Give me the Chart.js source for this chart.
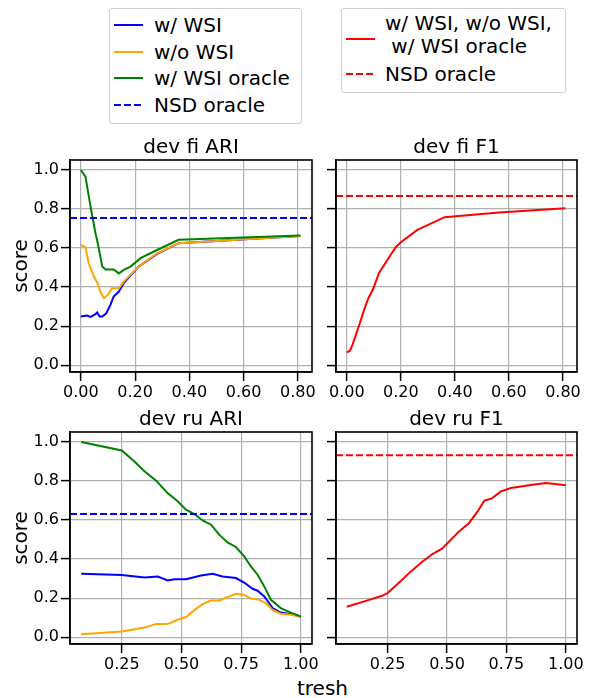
<!DOCTYPE html>
<html>
<head>
<meta charset="utf-8">
<script src="https://cdn.jsdelivr.net/npm/chart.js@4.4.1/dist/chart.umd.min.js"></script>
<style>
  body { margin: 0; background: #fff; font-family: "DejaVu Sans", sans-serif; }
  #wrap { position: relative; width: 589px; height: 698px; overflow: hidden; }
  canvas { position: absolute; }
  .legend { position: absolute; border: 1px solid #d0d0d0; border-radius: 3px; background: #fff; }
  .row { position: absolute; height: 24px; line-height: 24px; font-size: 20px; white-space: pre; color: #000; }
  .sample { position: absolute; }
  #xlabel { position: absolute; left: 0; width: 645px; text-align: center; top: 676px; font-size: 20px; line-height: 24px; }
</style>
</head>
<body>
<div id="wrap">
  <div class="legend" style="left:109px; top:8px; width:191px; height:114px;">
    <svg class="sample" style="left:4px; top:11px" width="30" height="10"><line x1="0" y1="5" x2="29" y2="5" stroke="#0000ff" stroke-width="2"/></svg>
    <div class="row" style="left:44px; top:4px">w/ WSI</div>
    <svg class="sample" style="left:4px; top:38px" width="30" height="10"><line x1="0" y1="5" x2="29" y2="5" stroke="#ffa500" stroke-width="2"/></svg>
    <div class="row" style="left:44px; top:31px">w/o WSI</div>
    <svg class="sample" style="left:4px; top:64px" width="30" height="10"><line x1="0" y1="5" x2="29" y2="5" stroke="#008000" stroke-width="2"/></svg>
    <div class="row" style="left:44px; top:57px">w/ WSI oracle</div>
    <svg class="sample" style="left:4px; top:91px" width="30" height="10"><line x1="0" y1="5" x2="29" y2="5" stroke="#0000ff" stroke-width="2" stroke-dasharray="7,3"/></svg>
    <div class="row" style="left:44px; top:84px">NSD oracle</div>
  </div>
  <div class="legend" style="left:341px; top:8px; width:223px; height:83px;">
    <svg class="sample" style="left:4px; top:25px" width="30" height="10"><line x1="0" y1="5" x2="29" y2="5" stroke="#ff0000" stroke-width="2"/></svg>
    <div class="row" style="left:43px; top:2px">w/ WSI, w/o WSI,</div>
    <div class="row" style="left:43px; top:25px"> w/ WSI oracle</div>
    <svg class="sample" style="left:4px; top:60px" width="30" height="10"><line x1="0" y1="5" x2="29" y2="5" stroke="#ff0000" stroke-width="2" stroke-dasharray="7,3"/></svg>
    <div class="row" style="left:43px; top:53px">NSD oracle</div>
  </div>
  <canvas id="fiAri" width="320" height="264" style="left:0px; top:136px"></canvas>
  <canvas id="fiF1" width="269" height="264" style="left:320px; top:136px"></canvas>
  <canvas id="ruAri" width="320" height="266" style="left:0px; top:408px"></canvas>
  <canvas id="ruF1" width="269" height="266" style="left:320px; top:408px"></canvas>
  <div id="xlabel">tresh</div>
</div>
<script>
// axis ranges
const yLim = [-0.035, 1.051];
const xLimFi = [-0.04, 0.852];
const xLimRu = [0.033, 1.047];

// dev fi ARI
const fiWsiX = [0, 0.023, 0.036, 0.054, 0.06, 0.069, 0.079, 0.094, 0.109, 0.121, 0.14, 0.158, 0.213, 0.281, 0.36, 0.809];
const fiWsiY = [0.249, 0.254, 0.247, 0.261, 0.27, 0.249, 0.249, 0.266, 0.309, 0.352, 0.377, 0.42, 0.505, 0.57, 0.625, 0.662];
const fiNoWsiX = [0, 0.017, 0.029, 0.048, 0.062, 0.072, 0.085, 0.1, 0.115, 0.14, 0.158, 0.213, 0.281, 0.36, 0.809];
const fiNoWsiY = [0.616, 0.604, 0.522, 0.454, 0.42, 0.375, 0.343, 0.36, 0.394, 0.394, 0.428, 0.505, 0.573, 0.625, 0.662];
const fiOracleX = [0, 0.017, 0.036, 0.054, 0.06, 0.072, 0.079, 0.091, 0.121, 0.14, 0.158, 0.183, 0.22, 0.281, 0.36, 0.809];
const fiOracleY = [1.0, 0.966, 0.81, 0.676, 0.64, 0.556, 0.505, 0.49, 0.49, 0.47, 0.488, 0.505, 0.548, 0.59, 0.642, 0.664];
const fiNsdAri = 0.754;

// dev fi F1
const fiF1X = [0, 0.011, 0.021, 0.046, 0.064, 0.08, 0.097, 0.119, 0.15, 0.181, 0.199, 0.261, 0.362, 0.563, 0.809];
const fiF1Y = [0.065, 0.073, 0.104, 0.206, 0.283, 0.343, 0.389, 0.471, 0.539, 0.604, 0.628, 0.693, 0.758, 0.782, 0.804];
const fiNsdF1 = 0.867;

// dev ru ARI
const ruWsiX = [0.08, 0.25, 0.345, 0.401, 0.442, 0.47, 0.519, 0.582, 0.631, 0.672, 0.728, 0.763, 0.798, 0.819, 0.847, 0.882, 0.916, 0.958, 1.0];
const ruWsiY = [0.325, 0.318, 0.306, 0.311, 0.291, 0.297, 0.297, 0.316, 0.325, 0.311, 0.303, 0.28, 0.248, 0.238, 0.209, 0.149, 0.126, 0.118, 0.106];
const ruNoWsiX = [0.08, 0.25, 0.303, 0.345, 0.394, 0.442, 0.484, 0.519, 0.561, 0.589, 0.624, 0.658, 0.728, 0.763, 0.791, 0.826, 0.854, 0.882, 0.916, 0.958, 1.0];
const ruNoWsiY = [0.015, 0.029, 0.041, 0.049, 0.068, 0.067, 0.089, 0.103, 0.145, 0.169, 0.188, 0.188, 0.222, 0.217, 0.198, 0.191, 0.174, 0.14, 0.12, 0.115, 0.106];
const ruOracleX = [0.08, 0.25, 0.303, 0.345, 0.394, 0.442, 0.484, 0.519, 0.554, 0.589, 0.624, 0.658, 0.693, 0.728, 0.763, 0.791, 0.819, 0.847, 0.875, 0.916, 0.958, 1.0];
const ruOracleY = [1.0, 0.956, 0.90, 0.85, 0.802, 0.738, 0.696, 0.653, 0.631, 0.598, 0.576, 0.525, 0.485, 0.462, 0.414, 0.362, 0.32, 0.26, 0.191, 0.149, 0.126, 0.106];
const ruNsdAri = 0.631;

// dev ru F1
const ruF1X = [0.078, 0.159, 0.226, 0.25, 0.292, 0.348, 0.397, 0.439, 0.479, 0.516, 0.551, 0.593, 0.629, 0.657, 0.689, 0.727, 0.769, 0.818, 0.86, 0.916, 1.0];
const ruF1Y = [0.156, 0.186, 0.212, 0.226, 0.272, 0.337, 0.388, 0.426, 0.453, 0.499, 0.542, 0.585, 0.644, 0.699, 0.711, 0.747, 0.764, 0.773, 0.781, 0.79, 0.778];
const ruNsdF1 = 0.932;

Chart.defaults.font.family = "DejaVu Sans";
Chart.defaults.font.size = 16;
Chart.defaults.color = "#000";

const pts = (xs, ys) => xs.map((x, i) => ({ x: x, y: ys[i] }));
const line = (xs, ys, color) => ({ data: pts(xs, ys), borderColor: color, borderWidth: 2, pointRadius: 0, tension: 0 });
const hline = (xlim, y, color) => ({ data: xlim.map(x => ({ x: x, y: y })), borderColor: color, borderWidth: 2, borderDash: [7, 3], pointRadius: 0 });

// box around the plot area, and the panel title centred over it (like matplotlib)
const framePlugin = {
  id: 'frame',
  afterDraw(chart, args, opts) {
    const a = chart.chartArea, c = chart.ctx;
    c.save();
    c.strokeStyle = '#000';
    c.lineWidth = 1.6;
    c.strokeRect(a.left, a.top, a.right - a.left, a.bottom - a.top);
    c.fillStyle = '#000';
    c.font = '20px "DejaVu Sans"';
    c.textAlign = 'center';
    c.textBaseline = 'middle';
    c.fillText(opts.title, (a.left + a.right) / 2, a.top - 12);
    c.restore();
  }
};

function panel(id, title, datasets, xlim, xstep, xdigits, yWidth, xHeight, padRight, showY) {
  const grid = { color: '#b0b0b0', lineWidth: 1.2, tickColor: '#000', tickWidth: 1.5, tickLength: 9 };
  new Chart(document.getElementById(id), {
    type: 'line',
    data: { datasets: datasets },
    plugins: [framePlugin],
    options: {
      responsive: false,
      animation: false,
      layout: { padding: { left: 0, right: padRight, top: 24, bottom: 0 } },
      plugins: {
        legend: { display: false },
        tooltip: { enabled: false },
        frame: { title: title }
      },
      scales: {
        x: {
          type: 'linear', min: xlim[0], max: xlim[1],
          ticks: { stepSize: xstep, includeBounds: false, padding: 2, maxRotation: 0, callback: v => v.toFixed(xdigits) },
          grid: grid,
          border: { color: '#000', width: 1.6 },
          afterFit: s => { s.height = xHeight; s.paddingLeft = 0; s.paddingRight = 0; }
        },
        y: {
          min: yLim[0], max: yLim[1],
          ticks: { display: showY, stepSize: 0.2, includeBounds: false, padding: 2, callback: v => v.toFixed(1) },
          title: { display: showY, text: 'score', font: { size: 20 }, padding: { top: 10, bottom: 0 } },
          grid: grid,
          border: { color: '#000', width: 1.6 },
          afterFit: s => { s.width = yWidth; s.paddingTop = 0; s.paddingBottom = 0; }
        }
      }
    }
  });
}

panel('fiAri', 'dev fi ARI', [
  hline(xLimFi, fiNsdAri, '#0000ff'),
  line(fiOracleX, fiOracleY, '#008000'),
  line(fiNoWsiX, fiNoWsiY, '#ffa500'),
  line(fiWsiX, fiWsiY, '#0000ff')
], xLimFi, 0.2, 2, 70, 28, 8, true);

panel('fiF1', 'dev fi F1', [
  hline(xLimFi, fiNsdF1, '#ff0000'),
  line(fiF1X, fiF1Y, '#ff0000')
], xLimFi, 0.2, 2, 16, 28, 12, false);

panel('ruAri', 'dev ru ARI', [
  hline(xLimRu, ruNsdAri, '#0000ff'),
  line(ruOracleX, ruOracleY, '#008000'),
  line(ruNoWsiX, ruNoWsiY, '#ffa500'),
  line(ruWsiX, ruWsiY, '#0000ff')
], xLimRu, 0.25, 2, 70, 30, 8, true);

panel('ruF1', 'dev ru F1', [
  hline(xLimRu, ruNsdF1, '#ff0000'),
  line(ruF1X, ruF1Y, '#ff0000')
], xLimRu, 0.25, 2, 16, 30, 12, false);
</script>
</body>
</html>
